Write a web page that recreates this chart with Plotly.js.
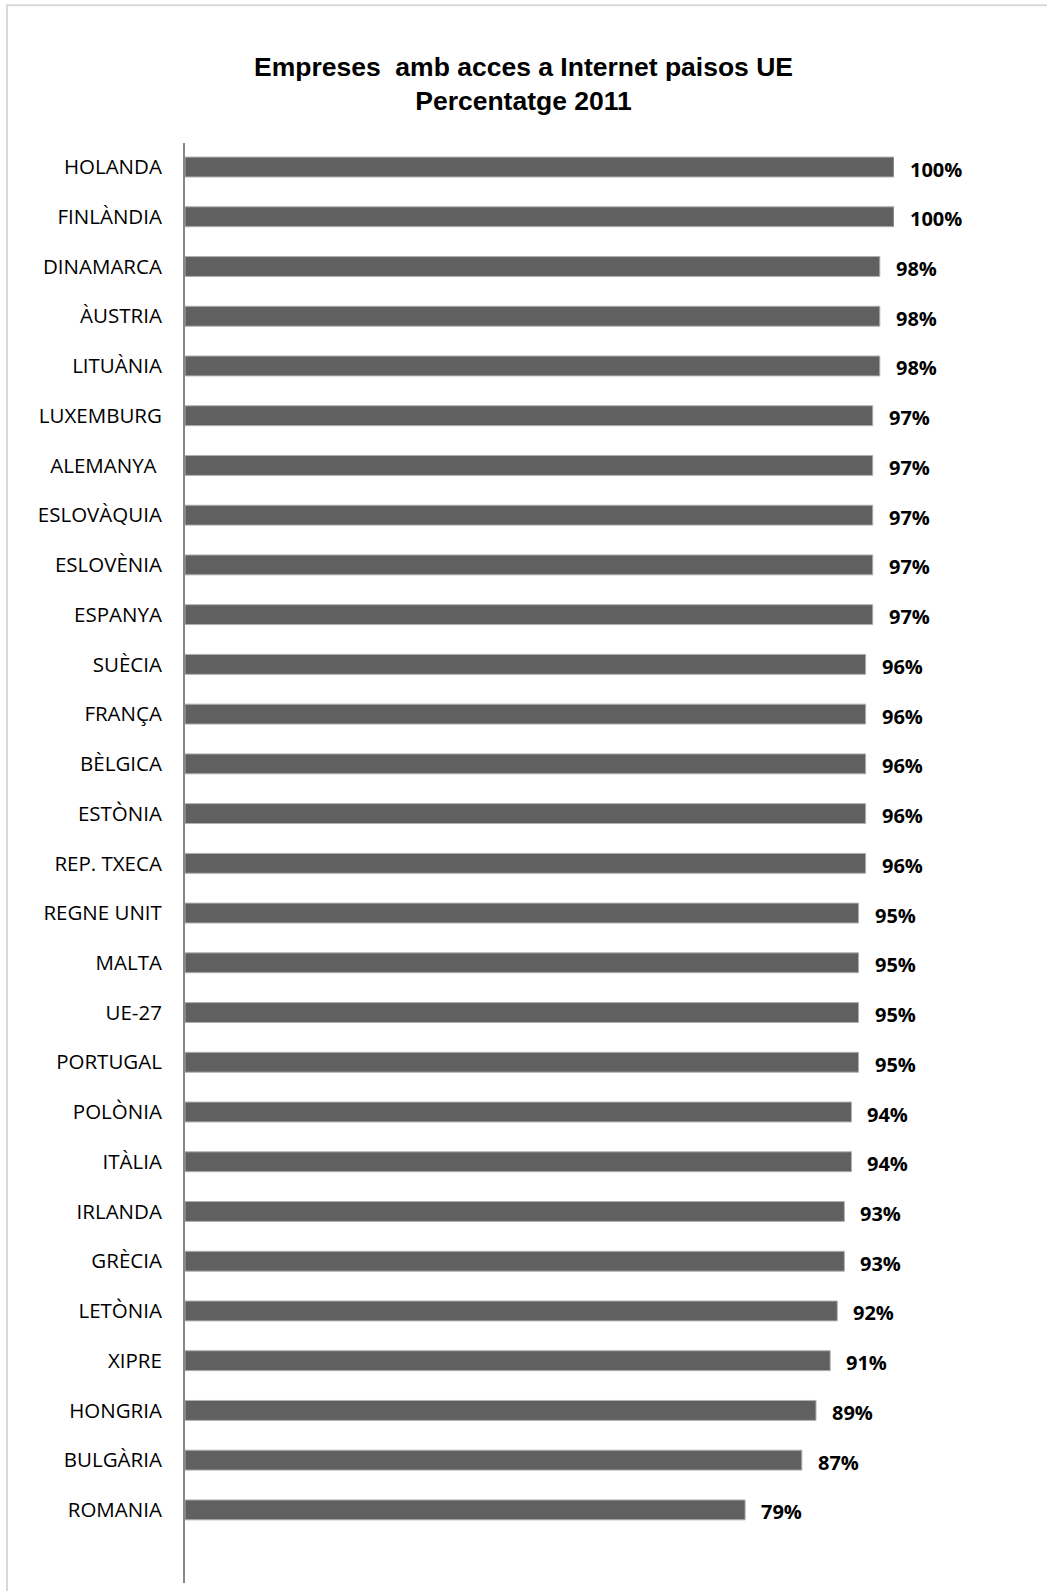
<!DOCTYPE html>
<html>
<head>
<meta charset="utf-8">
<script src="https://cdn.plot.ly/plotly-3.0.1.min.js"></script>
<style>
  html, body { margin: 0; padding: 0; background: #ffffff; }
  #chart { width: 1047px; height: 1591px; }
</style>
</head>
<body>
<div id="chart"></div>
<script>
const countries = [
  "HOLANDA", "FINLÀNDIA", "DINAMARCA", "ÀUSTRIA", "LITUÀNIA", "LUXEMBURG",
  "ALEMANYA\u00a0", "ESLOVÀQUIA", "ESLOVÈNIA", "ESPANYA", "SUÈCIA", "FRANÇA",
  "BÈLGICA", "ESTÒNIA", "REP. TXECA", "REGNE UNIT", "MALTA", "UE-27",
  "PORTUGAL", "POLÒNIA", "ITÀLIA", "IRLANDA", "GRÈCIA", "LETÒNIA",
  "XIPRE", "HONGRIA", "BULGÀRIA", "ROMANIA"
];
const values = [
  100, 100, 98, 98, 98, 97,
  97, 97, 97, 97, 96, 96,
  96, 96, 96, 95, 95, 95,
  95, 94, 94, 93, 93, 92,
  91, 89, 87, 79
];
const titleText = "Empreses \u00a0amb acces a Internet paisos UE<br>Percentatge 2011";

const trace = {
  type: "bar",
  orientation: "h",
  x: values,
  y: countries,
  marker: { color: "#606060", line: { color: "#b0b0b0", width: 1 } },
  hoverinfo: "skip"
};

const annotations = values.map((v, i) => ({
  xref: "x", yref: "y",
  x: v, y: countries[i],
  text: v + "%",
  showarrow: false,
  xanchor: "left",
  yanchor: "middle",
  xshift: 14,
  yshift: -2,
  font: { family: "Open Sans", size: 20, color: "#000000", weight: 700 }
}));

const layout = {
  width: 1047,
  height: 1591,
  margin: { l: 185, r: 153, t: 143, b: 8, pad: 0 },
  paper_bgcolor: "#ffffff",
  plot_bgcolor: "#ffffff",
  showlegend: false,
  bargap: 0.6,
  title: {
    text: titleText,
    x: 0.5, xanchor: "center", xref: "container",
    y: 1 - 75.5 / 1591, yanchor: "middle", yref: "container",
    font: { family: "Liberation Sans, Arial, sans-serif", size: 26.5, color: "#000000", weight: 700 }
  },
  xaxis: {
    range: [0, 100],
    showgrid: false, zeroline: false, showline: false,
    showticklabels: false, ticks: "", fixedrange: true
  },
  yaxis: {
    type: "category",
    autorange: false,
    range: [28.47, -0.483],
    showgrid: false, zeroline: false,
    showline: true, linecolor: "#868686", linewidth: 2,
    ticks: "",
    ticklabelstandoff: 17,
    automargin: false,
    tickfont: { family: "Open Sans", size: 20.5, color: "#000000" }
  },
  annotations: annotations,
  shapes: [{
    type: "rect", xref: "paper", yref: "paper",
    x0: (7 - 185) / 709, x1: (1060 - 185) / 709,
    y0: (1583 - 1600) / 1440, y1: (1583 - 5.3) / 1440,
    line: { color: "#d9d9d9", width: 2 },
    fillcolor: "rgba(0,0,0,0)",
    layer: "below"
  }]
};

Plotly.newPlot("chart", [trace], layout, { displayModeBar: false, staticPlot: true });
</script>
</body>
</html>
